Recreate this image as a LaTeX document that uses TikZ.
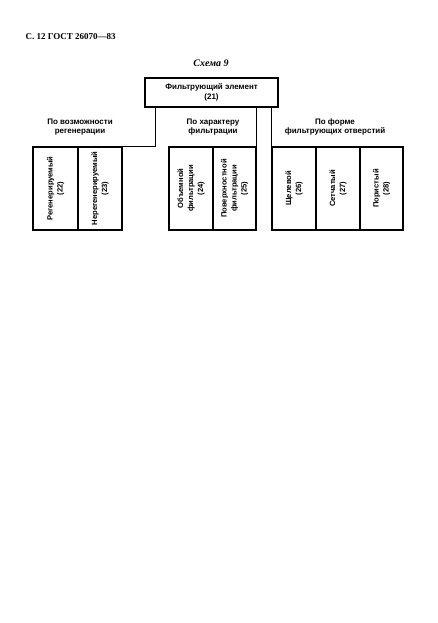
\documentclass[tikz,border=0pt]{standalone}
\usepackage{fontspec}
\setmainfont{Liberation Serif}
\newfontfamily\schemefont{Liberation Sans}
\usetikzlibrary{positioning}

\begin{document}
\begin{tikzpicture}[x=1pt,y=-1pt]
		\tikzstyle{BoxStyle}=[draw,line width=1.4pt,inner sep=0pt]
		\tikzstyle{CellStyle}=[BoxStyle,minimum height=83pt]
		\tikzstyle{TextStyle}=[font=\schemefont\bfseries\fontsize{8}{9.5}\selectfont,align=center,inner sep=0pt]
		\tikzstyle{TurnStyle}=[TextStyle,rotate=90,font=\schemefont\bfseries\fontsize{7.6}{10}\selectfont]
		\tikzstyle{EdgeStyle}=[line width=1.4pt]
		\useasboundingbox (0,0) rectangle (437,623);
		\node[anchor=west,font=\bfseries\fontsize{9}{11}\selectfont] (page) at (22,37) {С. 12 ГОСТ 26070—83};
		\node[font=\bfseries\itshape\fontsize{10}{12}\selectfont] (title) at (211,63) {Схема 9};
		\node[BoxStyle,TextStyle,minimum width=133pt,minimum height=29pt] (top) at (211.5,92.5) {Фильтрующий элемент\\(21)};
		% group headings
		\node[TextStyle] (g1) at (80,127) {По возможности\\регенерации};
		\node[TextStyle] (g2) at (213,127) {По характеру\\фильтрации};
		\node[TextStyle] (g3) at (335,127) {По форме\\фильтрующих отверстий};
		% cells
		\node[CellStyle,minimum width=45pt] (c22) at (55.5,188.5) {};
		\node[CellStyle,minimum width=44pt] (c23) at (100,188.5) {};
		\node[CellStyle,minimum width=44pt] (c24) at (191,188.5) {};
		\node[CellStyle,minimum width=43pt] (c25) at (234.5,188.5) {};
		\node[CellStyle,minimum width=44pt] (c26) at (294,188.5) {};
		\node[CellStyle,minimum width=44pt] (c27) at (338,188.5) {};
		\node[CellStyle,minimum width=43pt] (c28) at (381.5,188.5) {};
		\node[TurnStyle] (t22) at (c22) {Регенерируемый\\(22)};
		\node[TurnStyle] (t23) at (c23) {Нерегенерируемый\\(23)};
		\node[TurnStyle] (t24) at (c24) {Объемной\\фильтрации\\(24)};
		\node[TurnStyle] (t25) at (c25) {Поверхностной\\фильтрации\\(25)};
		\node[TurnStyle] (t26) at (c26) {Щелевой\\(26)};
		\node[TurnStyle] (t27) at (c27) {Сетчатый\\(27)};
		\node[TurnStyle] (t28) at (c28) {Пористый\\(28)};
		% frames from the element box
		\coordinate (l1) at ([xshift=11pt]top.south west);
		\draw[EdgeStyle] (l1) |- (c23.north east);
		\draw[EdgeStyle] (top.south -| c25.east) -- (c25.north east);
		\draw[EdgeStyle] (top.south -| c26.west) -- (c26.north west);
		%\draw[EdgeStyle] (top.south) -- (g2.north);
	\end{tikzpicture}
\end{document}
